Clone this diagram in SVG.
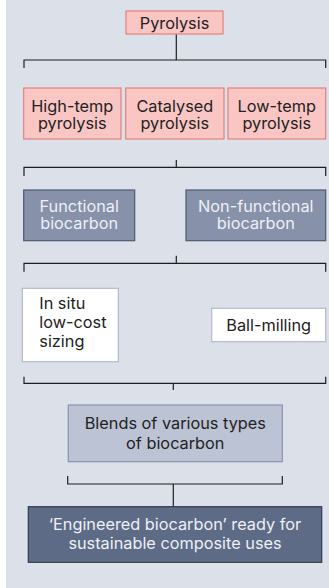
<svg xmlns="http://www.w3.org/2000/svg" width="329" height="588" viewBox="0 0 329 588">
<style>
text{font-family:Inter,"Open Sans","Liberation Sans",sans-serif;font-size:16.3px;font-weight:400;fill:#222222}
.c{text-anchor:middle}
.pk{fill:#f9c6c4;stroke:#e3807f;stroke-width:1.2}
.fn{fill:#8791a9;stroke:#4e5a74;stroke-width:1.2}
.wh{fill:#ffffff;stroke:#b2bacb;stroke-width:1.2}
.bl{fill:#bcc3d4;stroke:#8993aa;stroke-width:1.2}
.en{fill:#5d6b86;stroke:#2f3b55;stroke-width:1.2}
.lt{fill:#eef0f5}
.ln{fill:none;stroke:#1e1e1e;stroke-width:1.2}
</style>
<rect x="0" y="0" width="329" height="588" fill="#ffffff"/>
<rect x="6" y="0" width="323" height="588" fill="#dbe0e9"/>
<g id="connectors">
<path class="ln" d="M176.3 34V60M24 68V60H325.7V68"/>
<path class="ln" d="M176.3 160V167.3M24 176V167.3H325.7V176"/>
<path class="ln" d="M176.3 255.7V263.3M24 271.7V263.3H325.7V271.7"/>
<path class="ln" d="M24 376.7V383.3H325.7V376.7M173.3 383.3V390"/>
<path class="ln" d="M67.7 476V484H282.3V476M173.3 484V506.7"/>
</g>
<g id="pyrolysis">
<rect class="pk" x="126" y="11" width="97" height="23"/>
<text class="c" x="174.5" y="28.5">Pyrolysis</text>
</g>
<g id="high-temp">
<rect class="pk" x="23.7" y="88" width="97.3" height="51"/>
<text class="c" x="72.3" y="111.5">High-temp</text>
<text class="c" x="72.3" y="129">pyrolysis</text>
</g>
<g id="catalysed">
<rect class="pk" x="125.7" y="88" width="98.3" height="51"/>
<text class="c" x="174.8" y="111.5">Catalysed</text>
<text class="c" x="174.8" y="129">pyrolysis</text>
</g>
<g id="low-temp">
<rect class="pk" x="228" y="88" width="97.7" height="51"/>
<text class="c" x="276.8" y="111.5">Low-temp</text>
<text class="c" x="276.8" y="129">pyrolysis</text>
</g>
<g id="functional">
<rect class="fn" x="23.7" y="190" width="111" height="50.7"/>
<text class="c lt" x="79.2" y="211.7">Functional</text>
<text class="c lt" x="79.2" y="229">biocarbon</text>
</g>
<g id="non-functional">
<rect class="fn" x="186" y="190" width="139.7" height="50.7"/>
<text class="c lt" x="255.8" y="211.7">Non-functional</text>
<text class="c lt" x="255.8" y="229">biocarbon</text>
</g>
<g id="in-situ">
<rect class="wh" x="22.3" y="288.3" width="96" height="73.4"/>
<text x="39.3" y="309.3">In situ</text>
<text x="39.3" y="328">low-cost</text>
<text x="39.3" y="346.7">sizing</text>
</g>
<g id="ball-milling">
<rect class="wh" x="211.7" y="308.3" width="114" height="33.4"/>
<text class="c" x="268.7" y="330.5">Ball-milling</text>
</g>
<g id="blends">
<rect class="bl" x="68.3" y="405" width="214" height="56.7"/>
<text class="c" x="175.3" y="429">Blends of various types</text>
<text class="c" x="175.3" y="448.5">of biocarbon</text>
</g>
<g id="engineered">
<rect class="en" x="28.3" y="506.7" width="293.4" height="55.6"/>
<text class="c lt" x="175" y="529.5">‘Engineered biocarbon’ ready for</text>
<text class="c lt" x="175" y="548.5">sustainable composite uses</text>
</g>
</svg>
